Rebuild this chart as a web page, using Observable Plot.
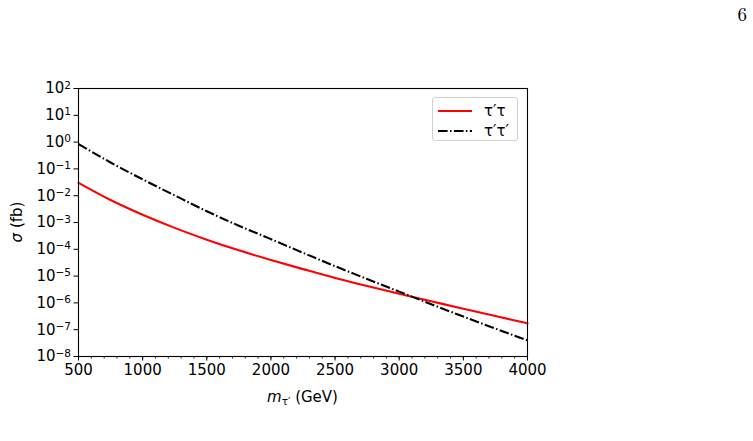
<!DOCTYPE html>
<html>
<head>
<meta charset="utf-8">
<script src="https://cdn.jsdelivr.net/npm/d3@7"></script>
<script src="https://cdn.jsdelivr.net/npm/@observablehq/plot@0.6"></script>
<style>
  html, body { margin: 0; padding: 0; background: #fff; }
  #wrap { position: relative; width: 753px; height: 441px; font-family: "DejaVu Sans", sans-serif; }
  #page { position: absolute; right: 6px; top: 0px; font-family: "Latin Modern Roman", "DejaVu Serif", "Liberation Serif", serif; font-size: 19px; color: #000; }
  #legend { position: absolute; left: 432px; top: 97px; width: 84px; height: 42px; border: 1px solid #d0d0d0; border-radius: 3px; background: #fff; font-size: 15px; }
  #legend .row { position: absolute; left: 5px; height: 20px; display: flex; align-items: center; }
  #legend .row span { margin-left: 12px; }
</style>
</head>
<body>
<div id="wrap">
  <div id="page">6</div>
  <div id="legend"></div>
</div>
<script>
// Mass points (GeV) and log10 of cross-section (fb) for the two production channels
const masses = [500, 750, 1000, 1250, 1500, 1750, 2000, 2250, 2500, 2750, 3000, 3250, 3500, 3750, 4000];
const logSigmaTauPrimeTau = [-1.52, -2.16, -2.71, -3.20, -3.64, -4.04, -4.40, -4.74, -5.07, -5.37, -5.66, -5.94, -6.22, -6.49, -6.76];
const logSigmaTauPrimePair = [-0.07, -0.76, -1.39, -1.99, -2.58, -3.12, -3.62, -4.13, -4.63, -5.11, -5.58, -6.05, -6.51, -6.96, -7.40];
const seriesNames = ["τ′τ", "τ′τ′"];
const seriesColors = ["#ff0000", "#000000"];
const xTicks = [500, 1000, 1500, 2000, 2500, 3000, 3500, 4000];
const yExponents = [-8, -7, -6, -5, -4, -3, -2, -1, 0, 1, 2];

const dashDot = "9.6,2.4,1.5,2.4";

const rows = masses.flatMap((m, i) => [
  {mass: m, sigma: Math.pow(10, logSigmaTauPrimeTau[i]), series: seriesNames[0]},
  {mass: m, sigma: Math.pow(10, logSigmaTauPrimePair[i]), series: seriesNames[1]}
]);

const chart = Plot.plot({
  width: 753,
  height: 441,
  marginLeft: 78,
  marginRight: 226,
  marginTop: 88,
  marginBottom: 85,
  style: {fontFamily: "DejaVu Sans, sans-serif", fontSize: "15px", background: "transparent"},
  x: {domain: [500, 4000]},
  y: {type: "log", domain: [1e-8, 1e2]},
  marks: [
    Plot.axisX({ticks: d3.range(500, 4001, 100), tickSize: 2.5, text: null, label: null, strokeWidth: 0.9}),
    Plot.axisX({ticks: xTicks, tickSize: 4.5, tickPadding: 3, tickFormat: d => String(d), label: null, strokeWidth: 1}),
    Plot.axisY({ticks: yExponents.map(e => Math.pow(10, e)), tickSize: 4.5, tickPadding: 3, tickFormat: d => String(Math.round(Math.log10(d))), label: null, strokeWidth: 1}),
    Plot.line(rows.filter(d => d.series === seriesNames[0]), {x: "mass", y: "sigma", stroke: seriesColors[0], strokeWidth: 2.1, curve: "monotone-x"}),
    Plot.line(rows.filter(d => d.series === seriesNames[1]), {x: "mass", y: "sigma", stroke: seriesColors[1], strokeWidth: 2.1, curve: "monotone-x"}),
    Plot.frame({stroke: "#000", strokeWidth: 1.1})
  ]
});

const svg = d3.select(chart);

// Dash-dot style for the pair-production curve
const lineGroups = svg.selectAll('g[aria-label="line"]').nodes();
d3.select(lineGroups[1]).selectAll("path")
  .attr("stroke-dasharray", dashDot)
  .attr("stroke-linecap", "butt");

// Render y tick labels as 10 with a raised exponent
svg.selectAll('g[aria-label="y-axis tick label"] text').each(function() {
  const t = d3.select(this);
  const e = t.text();
  t.text(null);
  t.append("tspan").text("10");
  t.append("tspan").attr("dy", "-0.45em").attr("font-size", "10.5px").text(e.replace("-", "−"));
});

// Axis titles
svg.append("text")
  .attr("transform", "translate(22,222) rotate(-90)")
  .attr("text-anchor", "middle")
  .attr("font-size", "15px")
  .call(t => {
    t.append("tspan").attr("font-style", "italic").text("σ");
    t.append("tspan").text(" (fb)");
  });

svg.append("text")
  .attr("x", 302.5)
  .attr("y", 402)
  .attr("text-anchor", "middle")
  .attr("font-size", "15px")
  .call(t => {
    t.append("tspan").attr("font-style", "italic").text("m");
    t.append("tspan").attr("font-size", "10.5px").attr("dy", "3").text("τ′");
    t.append("tspan").attr("dy", "-3").text(" (GeV)");
  });

document.getElementById("wrap").prepend(chart);

// Legend
const legend = d3.select("#legend");
seriesNames.forEach((name, i) => {
  const row = legend.append("div").attr("class", "row").style("top", (i === 0 ? 3 : 23) + "px");
  const sw = row.append("svg").attr("width", 34).attr("height", 10);
  sw.append("line").attr("x1", 0).attr("x2", 34).attr("y1", 5).attr("y2", 5)
    .attr("stroke", seriesColors[i]).attr("stroke-width", 2.1)
    .attr("stroke-dasharray", i === 1 ? dashDot : null);
  row.append("span").text(name);
});
</script>
</body>
</html>
